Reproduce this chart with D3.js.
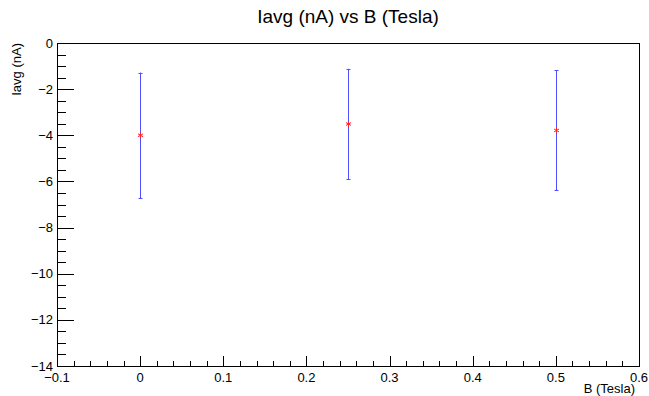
<!DOCTYPE html>
<html>
<head>
<meta charset="utf-8">
<script src="https://cdn.jsdelivr.net/npm/d3@7"></script>
<style>
  body { margin: 0; background: #fff; }
  text { font-family: "Liberation Sans", Arial, sans-serif; fill: #000; }
</style>
</head>
<body>
<div id="chart"></div>
<script>
var svgWidth = 649;
var svgHeight = 396;

// frame of the pad
var margin = { top: 43, right: 10, bottom: 30, left: 57 };
var width = svgWidth - margin.left - margin.right;
var height = svgHeight - margin.top - margin.bottom;

// data
var bField = [0, 0.25, 0.5];
var iavg = [-4.0, -3.51, -3.79];
var iavgErr = [2.72, 2.39, 2.6];

var xTicks = [-0.1, 0, 0.1, 0.2, 0.3, 0.4, 0.5, 0.6];
var yTicks = [0, -2, -4, -6, -8, -10, -12, -14];

var svg = d3.select("#chart")
  .append("svg")
  .attr("width", svgWidth)
  .attr("height", svgHeight);

var chartGroup = svg.append("g")
  .attr("transform", `translate(${margin.left}, ${margin.top})`);

var x = d3.scaleLinear().domain([-0.1, 0.6]).range([0, width]);
var y = d3.scaleLinear().domain([-14, 0]).range([height, 0]);

// frame
chartGroup.append("rect")
  .attr("x", 0.5).attr("y", 0.5)
  .attr("width", width).attr("height", height)
  .attr("fill", "none")
  .attr("stroke", "#000")
  .attr("stroke-width", 1);

// x axis ticks (major 0.1, minor 0.02)
var xMinor = d3.range(-0.1, 0.6001, 0.02);
chartGroup.append("g").selectAll("line")
  .data(xMinor)
  .enter()
  .append("line")
  .attr("x1", d => Math.round(x(d)) + 0.5)
  .attr("x2", d => Math.round(x(d)) + 0.5)
  .attr("y1", height)
  .attr("y2", (d, i) => i % 5 === 0 ? height - 10 : height - 5)
  .attr("stroke", "#000");

chartGroup.append("g").selectAll("text")
  .data(xTicks)
  .enter()
  .append("text")
  .attr("x", d => x(d))
  .attr("y", height + 16)
  .attr("text-anchor", "middle")
  .style("font-size", "13px")
  .text(d => d3.format("")(d).replace("-", "\u2212"));

// y axis ticks (major 2, minor 0.5)
var yMinor = d3.range(-14, 0.001, 0.5);
chartGroup.append("g").selectAll("line")
  .data(yMinor)
  .enter()
  .append("line")
  .attr("y1", d => Math.round(y(d)) + 0.5)
  .attr("y2", d => Math.round(y(d)) + 0.5)
  .attr("x1", 0)
  .attr("x2", (d, i) => i % 4 === 0 ? 17 : 9)
  .attr("stroke", "#000");

chartGroup.append("g").selectAll("text")
  .data(yTicks)
  .enter()
  .append("text")
  .attr("x", -4)
  .attr("y", d => y(d))
  .attr("dy", "0.35em")
  .attr("text-anchor", "end")
  .style("font-size", "13px")
  .text(d => String(d).replace("-", "\u2212"));

// axis titles
chartGroup.append("text")
  .attr("x", width - 4)
  .attr("y", height + 27)
  .attr("text-anchor", "end")
  .style("font-size", "13px")
  .text("B (Tesla)");

chartGroup.append("text")
  .attr("transform", "rotate(-90)")
  .attr("x", 0)
  .attr("y", -36)
  .attr("text-anchor", "end")
  .style("font-size", "13px")
  .text("Iavg (nA)");

// title
svg.append("text")
  .attr("x", 348)
  .attr("y", 23)
  .attr("text-anchor", "middle")
  .style("font-size", "19px")
  .text("Iavg (nA) vs B (Tesla)");

// error bars
var points = bField.map((b, i) => ({ b: b, v: iavg[i], e: iavgErr[i] }));

var bars = chartGroup.append("g").selectAll("g")
  .data(points)
  .enter()
  .append("g")
  .attr("stroke", "#5050ff")
  .attr("stroke-width", 1);

bars.append("line")
  .attr("x1", d => Math.round(x(d.b)) + 0.5)
  .attr("x2", d => Math.round(x(d.b)) + 0.5)
  .attr("y1", d => y(d.v + d.e))
  .attr("y2", d => y(d.v - d.e));

bars.append("line")
  .attr("x1", d => Math.round(x(d.b)) - 1.5)
  .attr("x2", d => Math.round(x(d.b)) + 2.5)
  .attr("y1", d => Math.round(y(d.v + d.e)) + 0.5)
  .attr("y2", d => Math.round(y(d.v + d.e)) + 0.5);

bars.append("line")
  .attr("x1", d => Math.round(x(d.b)) - 1.5)
  .attr("x2", d => Math.round(x(d.b)) + 2.5)
  .attr("y1", d => Math.round(y(d.v - d.e)) + 0.5)
  .attr("y2", d => Math.round(y(d.v - d.e)) + 0.5);

// asterisk markers
var star = d3.symbol().type(d3.symbolAsterisk).size(22);
chartGroup.append("g").selectAll("path")
  .data(points)
  .enter()
  .append("path")
  .attr("transform", d => `translate(${Math.round(x(d.b)) + 0.5}, ${y(d.v)})`)
  .attr("d", star)
  .attr("fill", "none")
  .attr("stroke", "#ff2020")
  .attr("stroke-width", 1);
</script>
</body>
</html>
